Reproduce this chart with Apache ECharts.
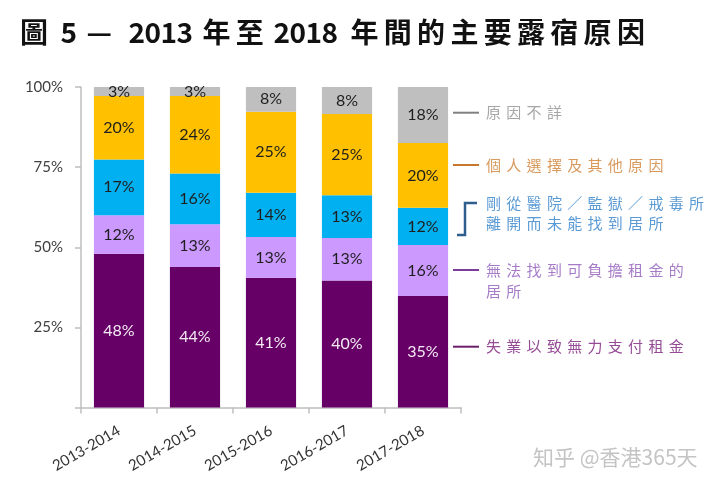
<!DOCTYPE html>
<html><head><meta charset="utf-8">
<script src="https://cdn.jsdelivr.net/npm/echarts@6/dist/echarts.min.js"></script>
<style>html,body{margin:0;padding:0;background:#fff}#c{width:720px;height:487px}</style>
</head><body><div id="c"></div>
<script>
// ---- data ----
const categories = ['2013-2014', '2014-2015', '2015-2016', '2016-2017', '2017-2018'];
const seriesNames = ['失業以致無力支付租金', '無法找到可負擔租金的居所', '剛從醫院／監獄／戒毒所離開而未能找到居所', '個人選擇及其他原因', '原因不詳'];
const unemployed   = [48.0, 43.8, 40.5, 39.6, 34.8];
const unaffordable = [12.0, 13.4, 12.7, 13.3, 15.9];
const discharged   = [17.4, 15.8, 13.8, 13.3, 11.6];
const personal     = [19.8, 24.2, 25.3, 25.4, 20.2];
const unknown      = [2.8, 2.8, 7.7, 8.4, 17.5];
const yTicks = [0, 25, 50, 75, 100];
const titleText = '圖 5 — 2013 年至 2018 年間的主要露宿原因';
const legendLines = [
  ['原因不詳'],
  ['個人選擇及其他原因'],
  ['剛從醫院／監獄／戒毒所', '離開而未能找到居所'],
  ['無法找到可負擔租金的', '居所'],
  ['失業以致無力支付租金']
];
const watermark = '知乎 @香港365天';

// ---- styles ----
const barColors = ['#660066', '#cc99ff', '#00b0f0', '#ffc000', '#bfbfbf'];
const labelColors = ['#f4eaf4', '#1e1e1e', '#1e1e1e', '#1e1e1e', '#1e1e1e'];
const legendTextColors = ['#a6a6a6', '#d9995c', '#5b9bd5', '#a67cc8', '#954b95'];
const legendDashColors = ['#808080', '#c8772e', '#2e5e8e', '#7a3d9a', '#6b1f6b'];
const LATO = 'Lato, "Liberation Sans", sans-serif';
const CJK = '"Noto Sans CJK TC", "Noto Sans CJK SC", sans-serif';

const seriesData = [unemployed, unaffordable, discharged, personal, unknown];

const titleSpaceWidths = [7.2, 10, 14, 10, 4.4, 13];
function titleRich(str) {
  let sp = 0;
  return Array.from(str).map(ch => {
    if (ch === ' ') { sp++; return '{s' + sp + '| }'; }
    if (/[0-9]/.test(ch)) return '{d|' + ch + '}';
    if (ch === '—') return '{m|' + ch + '}';
    return '{c|' + ch + '}';
  }).join('');
}
function spacedLines(lines) {
  return lines.map(l => Array.from(l).map(ch => '{a|' + ch + '}').join('')).join('\n');
}

const chart = echarts.init(document.getElementById('c'));

const series = seriesData.map((d, i) => ({
  name: seriesNames[i],
  type: 'bar',
  stack: 'total',
  data: d,
  barCategoryGap: '34%',
  itemStyle: { color: barColors[i] },
  label: {
    show: true,
    position: 'inside',
    formatter: p => Math.round(p.value) + '%',
    color: labelColors[i],
    fontFamily: LATO,
    fontSize: 16,
    textBorderWidth: 0
  },
  emphasis: { disabled: true }
}));

const legendY = [112.7, 165, 213.2, 280.9, 346.7];
const graphics = [];
// title
const tStyle = (w) => ({ width: w, align: 'left', fontSize: 28, fontWeight: 'bold', fontFamily: CJK, fill: '#111', lineHeight: 34 });
const titleRichStyles = { c: tStyle(33.3), d: tStyle(16), m: tStyle(28) };
titleSpaceWidths.forEach((w, i) => { titleRichStyles['s' + (i + 1)] = tStyle(w); });
graphics.push({
  type: 'text', x: 20, y: 32,
  style: {
    text: titleRich(titleText), textAlign: 'left', textVerticalAlign: 'middle', fill: '#111',
    font: 'bold 28px ' + CJK,
    rich: titleRichStyles
  }
});
// legend dashes / bracket and texts
legendLines.forEach((lines, i) => {
  if (i === 2) {
    graphics.push({
      type: 'polyline',
      shape: { points: [[457, 235], [465, 235], [465, 203], [477, 203]] },
      style: { stroke: legendDashColors[i], lineWidth: 2.5, fill: null }
    });
  } else {
    const ly = i === 3 ? 270 : legendY[i];
    graphics.push({
      type: 'line',
      shape: { x1: 453, y1: ly, x2: 479, y2: ly },
      style: { stroke: legendDashColors[i], lineWidth: 2 }
    });
  }
  graphics.push({
    type: 'text', x: 486, y: legendY[i],
    style: {
      text: spacedLines(lines), textAlign: 'left', textVerticalAlign: 'middle', fill: legendTextColors[i],
      font: '15px ' + CJK,
      rich: { a: { width: 20.3, align: 'left', fontSize: 15, fontFamily: CJK, fill: legendTextColors[i], lineHeight: 20.7 } }
    }
  });
});
// watermark
graphics.push({
  type: 'text', x: 533, y: 457,
  style: { text: watermark, textVerticalAlign: 'middle', fill: '#c4c4c4', font: '21px "Noto Sans CJK SC", sans-serif' }
});

chart.setOption({
  animation: false,
  backgroundColor: '#ffffff',
  grid: { left: 81, right: 259, top: 87, bottom: 79.5, containLabel: false, outerBoundsMode: 'none' },
  xAxis: {
    type: 'category',
    data: categories,
    axisLine: { show: true, lineStyle: { color: '#bfbfbf', width: 1.5 } },
    axisTick: { show: true, length: 6, lineStyle: { color: '#bfbfbf', width: 1.5 } },
    axisLabel: { rotate: 30, margin: 22, fontFamily: LATO, fontSize: 15, color: '#333', interval: 0 }
  },
  yAxis: {
    type: 'value',
    min: yTicks[0], max: yTicks[yTicks.length - 1], interval: 25,
    axisLine: { show: true, lineStyle: { color: '#bfbfbf', width: 1.5 } },
    axisTick: { show: true, length: 6, lineStyle: { color: '#bfbfbf', width: 1.5 } },
    splitLine: { show: false },
    axisLabel: { margin: 18, fontFamily: LATO, fontSize: 15, color: '#404040', formatter: v => v === 0 ? '' : v + '%' }
  },
  series: series,
  graphic: graphics
});
</script>
</body></html>
